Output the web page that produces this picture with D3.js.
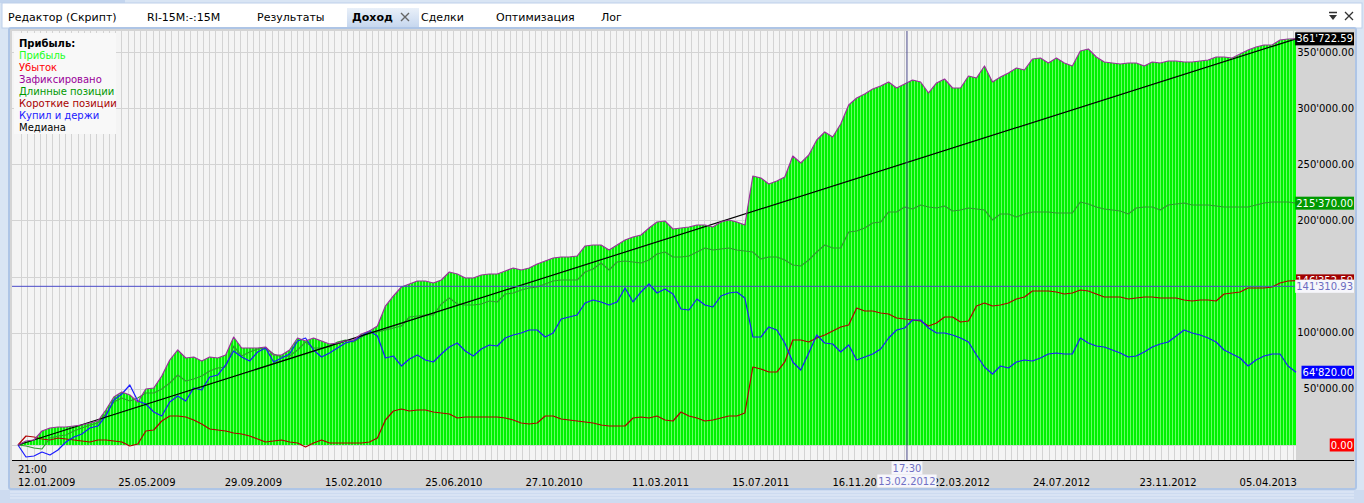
<!DOCTYPE html>
<html>
<head>
<meta charset="utf-8">
<script src="https://cdn.jsdelivr.net/npm/d3@7"></script>
<style>
body { margin: 0; background: #d9e5f4; overflow: hidden; }
svg { display: block; font-family: "DejaVu Sans", Verdana, sans-serif; }
</style>
</head>
<body>
<svg id="chart" width="1364" height="503"></svg>
<script>
// ---- data ----
const tabs = ["Редактор (Скрипт)", "RI-15M:-:15M", "Результаты", "Доход", "Сделки", "Оптимизация", "Лог"];
const tabX = [8, 147, 257, 352, 421, 496, 601];
const activeTab = "Доход";

const legendTitle = "Прибыль:";
const legendItems = ["Прибыль", "Убыток", "Зафиксировано", "Длинные позиции", "Короткие позиции", "Купил и держи", "Медиана"];
const legendColors = ["#22ff22", "#ff0000", "#990099", "#009900", "#a80000", "#2020ff", "#000000"];

const yTicks = [0, 50000, 100000, 150000, 200000, 250000, 300000, 350000];

// bottom time axis: one grid column per bar
const gridBars = 204;
const dateTicks = [0, 16, 33, 49, 65, 81, 98, 114, 130, 146, 162, 179, 195];
const dateLabels = ["12.01.2009", "25.05.2009", "29.09.2009", "15.02.2010", "25.06.2010", "27.10.2010",
  "11.03.2011", "15.07.2011", "16.11.2011", "22.03.2012", "24.07.2012", "23.11.2012", "05.04.2013"];
const firstTime = "21:00";

// equity ("Зафиксировано", also the top of the green profit fill)
const profit = [0, 3560, 4450, 12470, 15140, 16030, 16030, 16920, 17810, 19590,
  21380, 31170, 42750, 47200, 44530, 38300, 49870, 50760, 61450, 75700,
  84610, 77480, 78370, 74810, 78370, 77480, 80150, 96180, 86390, 86390,
  86390, 87280, 80150, 80150, 84610, 95290, 92620, 95290, 92620, 89950,
  90840, 92620, 93510, 98860, 101530, 105980, 123790, 132700, 140710, 143390,
  146060, 146060, 144280, 146950, 154070, 152290, 148730, 148730, 151400, 152290,
  152290, 154960, 157640, 155860, 157640, 161200, 163870, 166540, 167430, 167430,
  168320, 177230, 178120, 178120, 173670, 178120, 182570, 185240, 187030, 193260,
  198600, 199490, 192370, 193260, 194150, 195930, 195930, 194150, 198600, 200390,
  198600, 195930, 239570, 237790, 232450, 235120, 238680, 257380, 251150, 258270,
  271630, 278760, 274300, 285890, 302800, 309040, 312600, 317050, 319730, 323290,
  317950, 321510, 325070, 323290, 313490, 322400, 325960, 317950, 317950, 328630,
  326850, 337540, 323290, 327740, 331300, 335760, 333980, 343770, 344660, 340210,
  344660, 340210, 337540, 350900, 352680, 345550, 341100, 340210, 339320, 340210,
  340210, 337540, 341100, 340210, 341990, 341990, 341100, 341100, 341990, 342880,
  345550, 345550, 344660, 348220, 351790, 354460, 356240, 356240, 360690, 361580,
  361722.59];

const longPos = [0, -890, -2670, -3560, 6230, 8020, 8910, 12470, 15140, 17810,
  19590, 27610, 38300, 41860, 39190, 41860, 46310, 46310, 49870, 55220,
  62340, 57000, 58780, 61450, 65900, 68580, 69470, 88170, 79260, 82830,
  85500, 86390, 81040, 78370, 79260, 84610, 91730, 86390, 86390, 87280,
  91730, 93510, 91730, 96180, 100640, 100640, 102420, 104200, 105980, 114000,
  114890, 115780, 115780, 125570, 130920, 125570, 124680, 124680, 125570, 128250,
  127360, 134480, 135370, 138040, 139820, 140710, 143390, 146060, 146950, 146950,
  146950, 154070, 156750, 162090, 155860, 162980, 163870, 162980, 162090, 164760,
  170100, 171890, 167430, 167430, 168320, 171890, 175450, 173670, 174560, 175450,
  173670, 172780, 171890, 165650, 167430, 167430, 164760, 160310, 159420, 164760,
  171890, 178120, 175450, 175450, 189700, 190590, 193260, 197710, 198600, 207510,
  207510, 211960, 210180, 213740, 211960, 211070, 212850, 208400, 209290, 211070,
  210180, 209290, 200390, 205730, 205730, 203060, 205730, 207510, 207510, 207510,
  206620, 206620, 206620, 216420, 214640, 211960, 210180, 209290, 208400, 205730,
  211070, 211960, 211960, 209290, 213740, 214640, 215520, 213740, 213740, 213740,
  212850, 211960, 211960, 211960, 211960, 213740, 215520, 216420, 216420, 216420,
  215370];

const shortPos = [0, 8020, 7120, 5340, 4450, 6230, 5340, 4450, 3560, 2670,
  4450, 4450, 3560, 2670, -890, 890, 12470, 13360, 21370, 25830,
  25830, 24940, 22270, 18700, 14250, 13360, 12470, 10690, 9800, 8020,
  5340, 2670, 3560, 4450, 2670, 1780, -1780, 1780, 4450, 1780,
  1780, 1780, 1780, 1780, 2670, 6230, 22270, 30280, 32060, 30280,
  31170, 31170, 29390, 28500, 27610, 24050, 24940, 24940, 24940, 24940,
  24940, 24050, 22270, 19590, 18700, 19590, 25830, 25830, 23160, 22270,
  21370, 20480, 19590, 17810, 16920, 16920, 16920, 24050, 24940, 24050,
  25830, 22270, 21370, 29390, 25830, 24050, 21370, 22270, 24050, 25830,
  25830, 28500, 69470, 67690, 65010, 65010, 73920, 93510, 93510, 91730,
  95290, 97970, 101530, 105090, 106870, 122010, 119340, 119340, 117560, 116670,
  113110, 112220, 111330, 110430, 105980, 108650, 114000, 114000, 109540, 110430,
  123790, 126470, 123790, 124680, 126470, 130030, 131810, 137150, 137150, 137150,
  136260, 134480, 135370, 138040, 137150, 134480, 131810, 131810, 131810, 130030,
  130920, 131810, 131810, 130920, 130920, 130920, 129140, 128250, 129140, 129140,
  128250, 134480, 135370, 136260, 139820, 139820, 139820, 140710, 144280, 146060,
  146352.59];

const buyHold = [0, -10690, -9800, -6230, -8910, -4450, 2670, 7120, 9800, 15140,
  16920, 25830, 40080, 45420, 53440, 39190, 36520, 29390, 25830, 38300,
  43640, 39190, 50760, 48980, 60560, 62340, 71250, 83720, 78370, 74810,
  82830, 86390, 73920, 77480, 81040, 92620, 95290, 84610, 78370, 81940,
  86390, 90840, 92620, 97080, 101530, 97080, 77480, 79260, 70360, 76590,
  80150, 75700, 73920, 81040, 87280, 90840, 83720, 79260, 85500, 89060,
  88170, 95290, 97970, 99750, 102420, 102420, 96180, 99750, 112220, 114000,
  115780, 126470, 129140, 127360, 124680, 127360, 139820, 127360, 136260, 143390,
  135370, 138930, 134480, 121120, 120230, 130030, 124680, 122900, 132700, 135370,
  136260, 130920, 96180, 96180, 105090, 102420, 90840, 73920, 66790, 81940,
  97970, 90840, 89950, 82830, 89060, 75700, 78370, 81040, 85500, 95290,
  102420, 104200, 111330, 111330, 104200, 99750, 99750, 97970, 95290, 91730,
  80150, 69470, 63230, 70360, 68580, 73920, 75700, 74810, 77480, 81040,
  81940, 81040, 81040, 95290, 90840, 88170, 87280, 84610, 81940, 78370,
  79260, 82830, 87280, 89950, 91730, 97080, 102420, 99750, 97970, 95290,
  91730, 84610, 81040, 77480, 70360, 75700, 79260, 81040, 81040, 70360,
  64820];

const median = [0, 361722.59];
const lossValue = 0;

// crosshair
const crossBar = 141.9;
const crossValue = 141310.93;
const crossTime = "17:30";
const crossDate = "13.02.2012";

// ---- layout ----
const svg = d3.select("#chart");
const plotL = 12, plotR = 1296, plotT = 31, plotB = 460, axisR = 1354;
const x0 = 18;

const xBar = d3.scaleLinear().domain([0, gridBars]).range([x0, plotR]);
const y = d3.scaleLinear().domain([0, 350000]).range([445, 52]);
const xOf = arr => d3.scaleLinear().domain([0, arr.length - 1]).range([x0, plotR]);

const fmt = d3.formatLocale({ decimal: ".", thousands: "'", grouping: [3], currency: ["", ""] }).format(",.2f");

const defs = svg.append("defs");

// ---- frame and tabs ----
svg.append("rect").attr("width", 1364).attr("height", 503).attr("fill", "#d9e5f4");
svg.append("rect").attr("x", 0).attr("y", 0).attr("width", 125).attr("height", 3).attr("fill", "#c3d5ee");
svg.append("rect").attr("x", 2).attr("y", 3).attr("width", 1360).attr("height", 25)
  .attr("fill", "#ffffff").attr("stroke", "#bdd0ea");

const tabGrad = defs.append("linearGradient").attr("id", "tabGrad")
  .attr("x1", 0).attr("x2", 0).attr("y1", 0).attr("y2", 1);
tabGrad.append("stop").attr("offset", "0").attr("stop-color", "#e9f0f9");
tabGrad.append("stop").attr("offset", "1").attr("stop-color", "#c5d6ee");
svg.append("rect").attr("x", 347).attr("y", 8).attr("width", 72).attr("height", 20).attr("fill", "url(#tabGrad)");

svg.append("g").selectAll("text").data(tabs).join("text")
  .attr("x", (d, i) => tabX[i]).attr("y", 21)
  .attr("font-size", 11)
  .attr("font-weight", d => d === activeTab ? "bold" : "normal")
  .attr("fill", "#000")
  .text(d => d);

function cross(g, cx, cy, r, color, w) {
  g.append("path").attr("d", `M${cx - r},${cy - r}L${cx + r},${cy + r}M${cx - r},${cy + r}L${cx + r},${cy - r}`)
    .attr("stroke", color).attr("stroke-width", w).attr("fill", "none");
}
const icons = svg.append("g");
cross(icons, 405, 17, 4, "#666", 1.4);
cross(icons, 1349, 16, 4, "#333", 1.3);
icons.append("path").attr("d", "M1329,12.5H1337").attr("stroke", "#333").attr("stroke-width", 1.5);
icons.append("path").attr("d", "M1329,15L1337,15L1333,20Z").attr("fill", "#333");

// panel
svg.append("rect").attr("x", 9).attr("y", 28).attr("width", axisR - 7).attr("height", 461)
  .attr("fill", "#d4d4d4").attr("stroke", "#aec5e6").attr("stroke-width", 2).attr("rx", 2);
svg.append("rect").attr("x", plotL).attr("y", plotT).attr("width", plotR - plotL).attr("height", plotB - plotT)
  .attr("fill", "#f4f4f4");

// bottom strip
const strip = svg.append("g");
strip.append("rect").attr("x", 0).attr("y", 490).attr("width", 1364).attr("height", 13).attr("fill", "#cddbf0");
strip.selectAll("line").data([492, 495, 498]).join("line")
  .attr("x1", 10).attr("x2", 1354).attr("y1", d => d).attr("y2", d => d)
  .attr("stroke", "#e4ecf8").attr("stroke-width", 1);

// ---- grid ----
const grid = svg.append("g");
grid.selectAll("line.v").data(d3.range(0, gridBars)).join("line").attr("class", "v")
  .attr("x1", d => Math.round(xBar(d + 0.5)) + 0.5).attr("x2", d => Math.round(xBar(d + 0.5)) + 0.5)
  .attr("y1", plotT).attr("y2", plotB)
  .attr("stroke", "#d3d3d3");
grid.selectAll("line.h").data(yTicks).join("line").attr("class", "h")
  .attr("x1", plotL).attr("x2", plotR)
  .attr("y1", d => Math.round(y(d)) + 0.5).attr("y2", d => Math.round(y(d)) + 0.5)
  .attr("stroke", "#d3d3d3");

// ---- profit fill ----
const pat = defs.append("pattern").attr("id", "stripes").attr("patternUnits", "userSpaceOnUse")
  .attr("width", 3).attr("height", 10);
pat.append("rect").attr("width", 3).attr("height", 10).attr("fill", "#00f200");
pat.append("rect").attr("x", 2).attr("width", 1).attr("height", 10).attr("fill", "#66ff66");

const xp = xOf(profit);
svg.append("path").datum(profit)
  .attr("fill", "url(#stripes)")
  .attr("d", d3.area().x((d, i) => xp(i)).y0(y(0)).y1(d => y(d)));
svg.append("rect").attr("x", plotR - 3).attr("y", y(profit[profit.length - 1]))
  .attr("width", 3).attr("height", y(0) - y(profit[profit.length - 1])).attr("fill", "#00ff00");

// ---- lines ----
function drawLine(arr, color, width) {
  const xs = xOf(arr);
  svg.append("path").datum(arr)
    .attr("fill", "none").attr("stroke", color).attr("stroke-width", width)
    .attr("stroke-linejoin", "round")
    .attr("d", d3.line().x((d, i) => xs(i)).y(d => y(d)));
}
drawLine(shortPos, "#b00000", 1.2);
drawLine(longPos, "#2f9a2f", 1.2);
drawLine(buyHold, "#1a1aff", 1.2);
drawLine(median, "#000000", 1.2);
drawLine(profit, "#9a2f9a", 1.2);

// ---- legend ----
const leg = svg.append("g");
leg.append("rect").attr("x", 14).attr("y", 33).attr("width", 102).attr("height", 101).attr("fill", "#f8f8f8");
leg.append("text").attr("x", 19).attr("y", 47).attr("font-size", 10).attr("font-weight", "bold").text(legendTitle);
leg.selectAll("text.item").data(legendItems).join("text").attr("class", "item")
  .attr("x", 19).attr("y", (d, i) => 59 + i * 12)
  .attr("font-size", 10)
  .attr("fill", (d, i) => legendColors[i])
  .text(d => d);

// ---- crosshair lines ----
const xc = xBar(crossBar);
svg.append("line").attr("x1", xc).attr("x2", xc).attr("y1", plotT).attr("y2", plotB)
  .attr("stroke", "#4b4b8c").attr("stroke-width", 1);
svg.append("line").attr("x1", plotL).attr("x2", plotR).attr("y1", y(crossValue)).attr("y2", y(crossValue))
  .attr("stroke", "#4a4ac8").attr("stroke-width", 1);

// ---- axes ----
svg.append("line").attr("x1", plotL).attr("x2", axisR).attr("y1", plotB + 0.5).attr("y2", plotB + 0.5)
  .attr("stroke", "#000").attr("stroke-width", 1.2);

// value labels sitting on the right scale (tick texts under them are hidden)
const valueMarks = [
  { v: profit[profit.length - 1], bg: "#000000", fg: "#ffffff" },
  { v: longPos[longPos.length - 1], bg: "#009a00", fg: "#ffffff" },
  { v: shortPos[shortPos.length - 1], bg: "#a00000", fg: "#ffffff", clipTo: crossValue },
  { v: buyHold[buyHold.length - 1], bg: "#0000ff", fg: "#ffffff" },
  { v: lossValue, bg: "#ff0000", fg: "#ffffff" },
  { v: crossValue, bg: "#f6f6fb", fg: "#6c6cc0" }
];

svg.append("g").selectAll("text")
  .data(yTicks.filter(t => !valueMarks.some(m => Math.abs(y(m.v) - y(t)) < 8)))
  .join("text")
  .attr("x", axisR).attr("y", d => y(d)).attr("dy", "0.36em")
  .attr("text-anchor", "end").attr("font-size", 10).attr("fill", "#000")
  .text(d => fmt(d));

valueMarks.forEach((m, k) => {
  const g = svg.append("g");
  if (m.clipTo !== undefined) {
    // partly covered by the crosshair label, only its top edge shows
    const top = y(m.v) - 6.5, bottom = y(m.clipTo) - 6.5;
    defs.append("clipPath").attr("id", "vclip" + k)
      .append("rect").attr("x", plotR).attr("y", top).attr("width", axisR - plotR + 2).attr("height", Math.max(0, bottom - top));
    g.attr("clip-path", `url(#vclip${k})`);
  }
  const t = g.append("text").attr("x", axisR - 1).attr("y", y(m.v)).attr("dy", "0.36em")
    .attr("text-anchor", "end").attr("font-size", 10).attr("fill", m.fg).text(fmt(m.v));
  const w = t.node().getComputedTextLength();
  g.insert("rect", "text").attr("x", axisR - w - 2).attr("y", y(m.v) - 6.5)
    .attr("width", w + 2).attr("height", 13).attr("fill", m.bg);
});

// date axis
svg.append("text").attr("x", x0).attr("y", 473).attr("font-size", 10).text(firstTime);
svg.append("g").selectAll("text").data(dateLabels).join("text")
  .attr("x", (d, i) => xBar(dateTicks[i])).attr("y", 486)
  .attr("font-size", 10).attr("fill", "#000")
  .text(d => d);

// crosshair time label
function boxText(txt, cx, cy) {
  const g = svg.append("g");
  const t = g.append("text").attr("x", cx).attr("y", cy).attr("dy", "0.36em")
    .attr("text-anchor", "middle").attr("font-size", 10).attr("fill", "#7070c4").text(txt);
  const w = t.node().getComputedTextLength();
  g.insert("rect", "text").attr("x", cx - w / 2 - 1).attr("y", cy - 6.5)
    .attr("width", w + 2).attr("height", 13).attr("fill", "#f6f6fb");
}
boxText(crossTime, xc, 468);
boxText(crossDate, xc, 481);
</script>
</body>
</html>
